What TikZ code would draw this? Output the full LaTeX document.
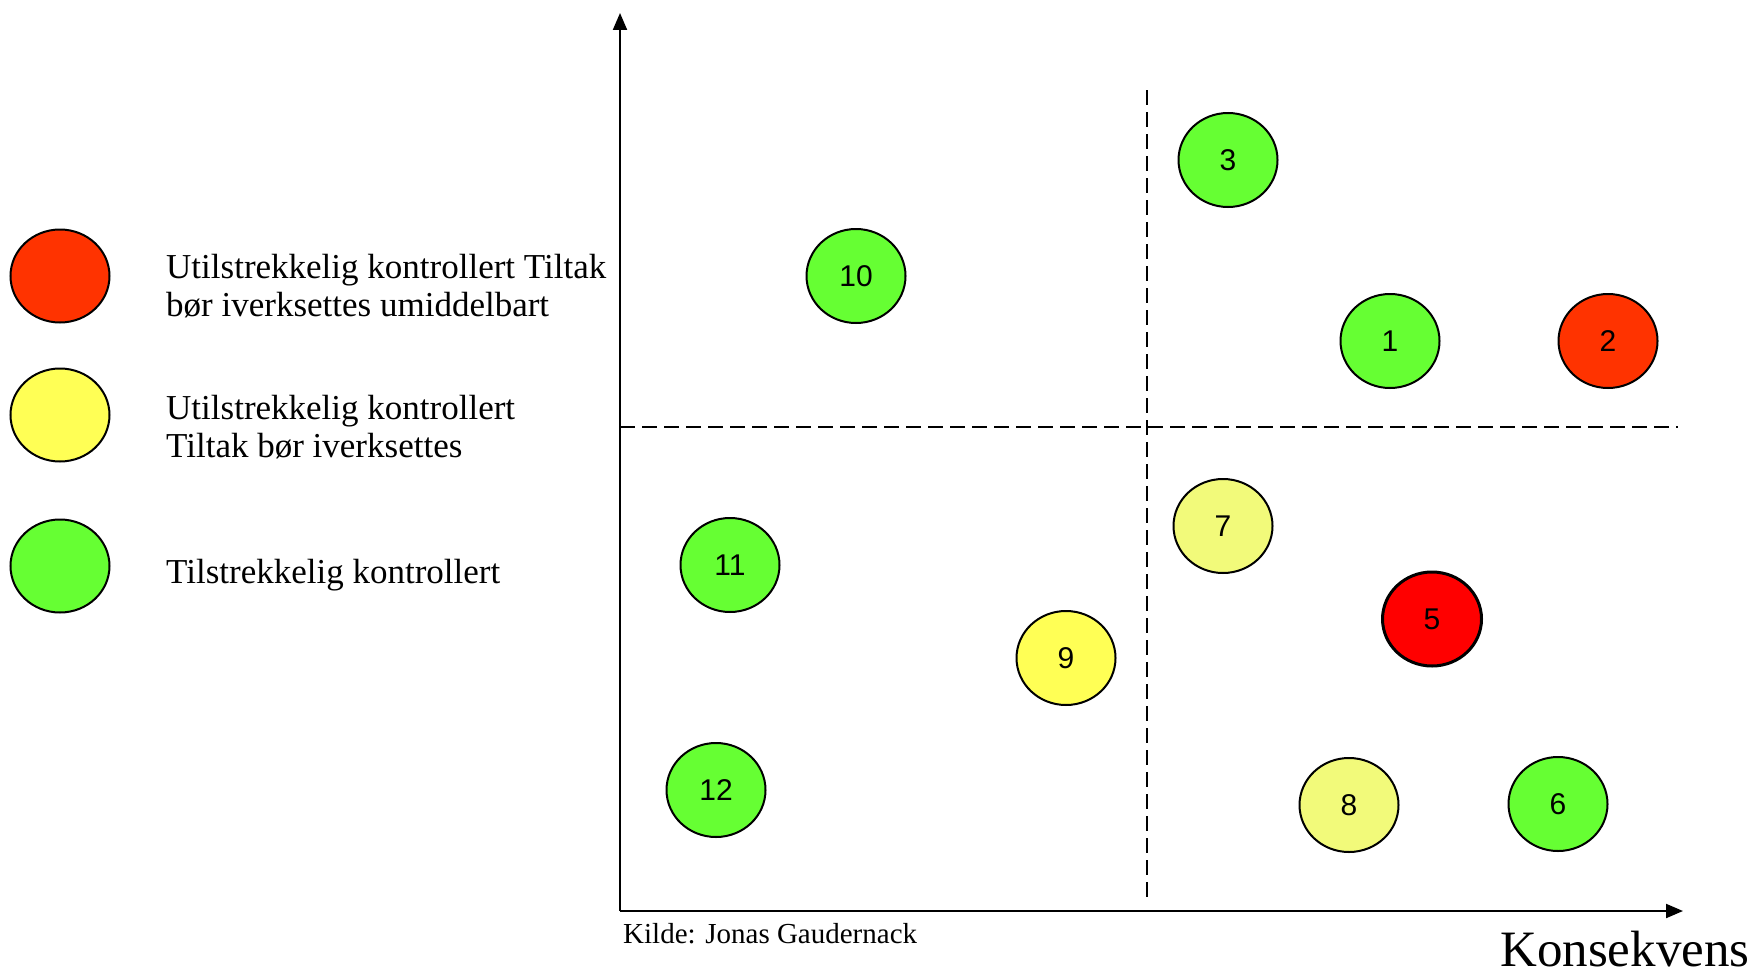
\documentclass[tikz,border=0pt]{standalone}
\usepackage{fontspec}
\setmainfont{Liberation Serif}
\newfontfamily\numfont{Liberation Sans}
\usetikzlibrary{shapes.geometric,arrows.meta}
\definecolor{cred}{HTML}{FF3300}
\definecolor{cpure}{HTML}{FF0000}
\definecolor{cyel}{HTML}{FFFF55}
\definecolor{cpale}{HTML}{F2FA7A}
\definecolor{cgreen}{HTML}{66FF33}
\tikzset{
  dot/.style={ellipse, draw=black, line width=2pt, minimum width=99pt, minimum height=94pt, inner sep=0pt,
    font=\numfont\fontsize{30}{30}\selectfont},
  legdot/.style={dot, minimum width=99pt, minimum height=93pt},
  legtext/.style={anchor=base west, align=left, inner sep=0pt, font=\fontsize{35}{37.5}\selectfont},
  axis/.style={line width=2pt, -{Triangle[length=17pt,width=14pt]}},
  quad/.style={line width=2pt, dash pattern=on 15pt off 7pt}
}
\begin{document}
\begin{tikzpicture}[x=1pt,y=-1pt]
\useasboundingbox (0,0) rectangle (1760,974);
% axes
\coordinate (o) at (620,911);
\coordinate (ytop) at (620,13);
\coordinate (xend) at (1683,911);
\draw[axis] (o) -- (ytop);
\draw[axis] (o) -- (xend);
% quadrant lines
\coordinate (hl) at (620,427);
\coordinate (hr) at (1678,427);
\coordinate (vt) at (1147,90);
\coordinate (vb) at (1147,898);
\draw[quad] (hl) -- (hr);
\draw[quad] (vt) -- (vb);
% legend
\node[legdot, fill=cred] (l1) at (60,276) {};
\node[legdot, fill=cyel] (l2) at (60,415) {};
\node[legdot, fill=cgreen] (l3) at (60,566) {};
\node[legtext] (t1) at (166,316) {Utilstrekkelig kontrollert Tiltak\\bør iverksettes umiddelbart};
\node[legtext] (t2) at (166,457) {Utilstrekkelig kontrollert\\Tiltak bør iverksettes};
\node[legtext] (t3) at (166,583) {Tilstrekkelig kontrollert};
% risk points
\node[dot, fill=cgreen] (p3) at (1228,160) {3};
\node[dot, fill=cgreen] (p10) at (856,276) {10};
\node[dot, fill=cgreen] (p1) at (1390,341) {1};
\node[dot, fill=cred] (p2) at (1608,341) {2};
\node[dot, fill=cpale] (p7) at (1223,526) {7};
\node[dot, fill=cgreen] (p11) at (730,565) {11};
\node[dot, fill=cpure, line width=3pt] (p5) at (1432,619) {5};
\node[dot, fill=cyel] (p9) at (1066,658) {9};
\node[dot, fill=cgreen] (p12) at (716,790) {12};
\node[dot, fill=cpale] (p8) at (1349,805) {8};
\node[dot, fill=cgreen] (p6) at (1558,804) {6};
% captions
\node[anchor=base west, inner sep=0pt, font=\fontsize{29}{29}\selectfont] (src) at (623,943) {Kilde: Jonas Gaudernack};
\node[anchor=base west, inner sep=0pt, font=\fontsize{51}{51}\selectfont] (kons) at (1500,966) {Konsekvens};
\end{tikzpicture}
\end{document}
